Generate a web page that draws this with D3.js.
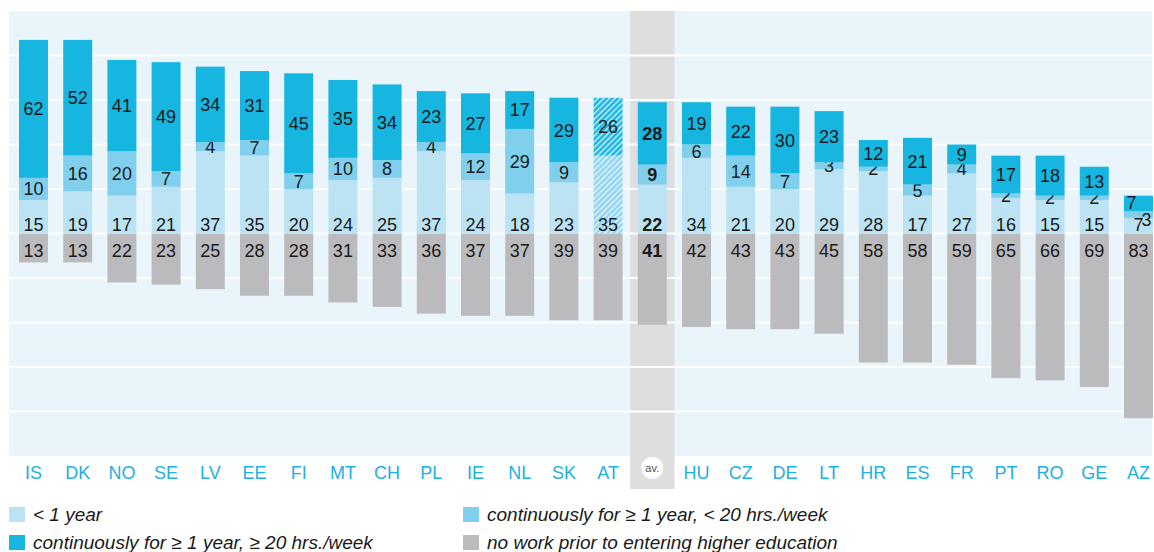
<!DOCTYPE html>
<html>
<head>
<meta charset="utf-8">
<script src="https://cdn.jsdelivr.net/npm/d3@7"></script>
<style>
  body { margin: 0; background: #fff; }
  text { font-family: "Liberation Sans", Arial, sans-serif; }
</style>
</head>
<body>
<script>
var w = 1154;
var h = 552;

// data (percent)
var countries = ["IS","DK","NO","SE","LV","EE","FI","MT","CH","PL","IE","NL","SK","AT","av.","HU","CZ","DE","LT","HR","ES","FR","PT","RO","GE","AZ"];
var lessOneYear = [15,19,17,21,37,35,20,24,25,37,24,18,23,35,22,34,21,20,29,28,17,27,16,15,15,7];
var contUnder20 = [10,16,20,7,4,7,7,10,8,4,12,29,9,0,9,6,14,7,3,2,5,4,2,2,2,3];
var contOver20 = [62,52,41,49,34,31,45,35,34,23,27,17,29,26,28,19,22,30,23,12,21,9,17,18,13,7];
var noWork = [13,13,22,23,25,28,28,31,33,36,37,37,39,39,41,42,43,43,45,58,58,59,65,66,69,83];
var gridTicks = [-80,-60,-40,-20,0,20,40,60,80];

var legendItems = [
  {label: "< 1 year", color: "#bbe3f3"},
  {label: "continuously for \u2265 1 year, < 20 hrs./week", color: "#80cfec"},
  {label: "continuously for \u2265 1 year, \u2265 20 hrs./week", color: "#17b6e1"},
  {label: "no work prior to entering higher education", color: "#bbbbbd"}
];

var colors = ["#bbe3f3", "#80cfec", "#17b6e1"];
var hatchBase = ["#8ed4ef", "#80cfec", "#17b6e1"];

var svg = d3.select("body").append("svg")
  .attr("width", w)
  .attr("height", h);

var defs = svg.append("defs");
hatchBase.forEach(function (c, i) {
  var p = defs.append("pattern")
    .attr("id", "hatch" + i)
    .attr("patternUnits", "userSpaceOnUse")
    .attr("width", 4)
    .attr("height", 4)
    .attr("patternTransform", "rotate(-45)");
  p.append("rect").attr("width", 4).attr("height", 4).attr("fill", c);
  p.append("rect").attr("width", 4).attr("height", 1.4).attr("fill", "#fff").attr("opacity", 0.8);
});

var x = d3.scaleBand()
  .domain(countries)
  .range([11.4, 1160.6])
  .paddingInner(0.344)
  .paddingOuter(0.172);

var y = d3.scaleLinear()
  .domain([-100, 100])
  .range([456, 11]);

var step = x.step();
var bw = x.bandwidth();

// plot background
svg.append("rect")
  .attr("x", 9).attr("y", y(100))
  .attr("width", 1143).attr("height", y(-100) - y(100))
  .attr("fill", "#eaf5fb");

// average column
var avX = x("av.") + bw / 2 - step / 2;
svg.append("rect")
  .attr("x", avX).attr("y", y(100))
  .attr("width", step).attr("height", 489 - y(100))
  .attr("fill", "#dedede");

// gridlines
svg.selectAll(".grid")
  .data(gridTicks)
  .join("line")
  .attr("class", "grid")
  .attr("x1", 9).attr("x2", 1152)
  .attr("y1", function (d) { return y(d); })
  .attr("y2", function (d) { return y(d); })
  .attr("stroke", "#fff")
  .attr("stroke-width", 2);

// build rows
var rows = countries.map(function (c, i) {
  return {
    c: c,
    vals: [lessOneYear[i], contUnder20[i], contOver20[i]],
    gray: noWork[i]
  };
});

var g = svg.selectAll(".bar")
  .data(rows)
  .join("g")
  .attr("class", "bar")
  .attr("transform", function (d) { return "translate(" + x(d.c) + ",0)"; });

// negative gray bars
g.append("rect")
  .attr("x", 0)
  .attr("y", y(0))
  .attr("width", bw)
  .attr("height", function (d) { return y(-d.gray) - y(0); })
  .attr("fill", "#bbbbbd");

// positive stacks
g.each(function (d) {
  var sel = d3.select(this);
  var cum = 0;
  var bold = d.c === "av." ? "bold" : "normal";
  d.vals.forEach(function (v, k) {
    var y0 = y(cum), y1 = y(cum + v);
    cum += v;
    if (v === 0) return;
    sel.append("rect")
      .attr("x", 0).attr("y", y1)
      .attr("width", bw).attr("height", y0 - y1)
      .attr("fill", d.c === "AT" ? "url(#hatch" + k + ")" : colors[k]);
    var lx = bw / 2, ly = (y0 + y1) / 2, dy = "0.36em";
    if (k === 0) { ly = y(0) - 2.5; dy = "0"; }
    if (d.c === "AZ" && k === 2) { lx -= 7; ly -= 1; }
    if (d.c === "AZ" && k === 1) { lx += 8; ly += 5; }
    sel.append("text")
      .attr("x", lx).attr("y", ly).attr("dy", dy)
      .attr("text-anchor", "middle")
      .attr("font-size", 18)
      .attr("font-weight", bold)
      .attr("fill", "#1a1a1a")
      .text(v);
  });
  sel.append("text")
    .attr("x", bw / 2).attr("y", y(0) + 23)
    .attr("text-anchor", "middle")
    .attr("font-size", 18)
    .attr("font-weight", bold)
    .attr("fill", "#1a1a1a")
    .text(d.gray);
});

// category labels
svg.selectAll(".cat")
  .data(countries.filter(function (c) { return c !== "av."; }))
  .join("text")
  .attr("class", "cat")
  .attr("x", function (d) { return x(d) + bw / 2; })
  .attr("y", 479)
  .attr("text-anchor", "middle")
  .attr("font-size", 18)
  .attr("fill", "#1eb0e0")
  .text(function (d) { return d; });

// av. badge
var avC = x("av.") + bw / 2;
svg.append("circle")
  .attr("cx", avC).attr("cy", 468)
  .attr("r", 11)
  .attr("fill", "#fff");
svg.append("text")
  .attr("x", avC).attr("y", 472)
  .attr("text-anchor", "middle")
  .attr("font-size", 11)
  .attr("fill", "#555")
  .text("av.");

// legend
var legPos = [[9, 507], [463, 507], [9, 535], [463, 535]];
var leg = svg.selectAll(".leg")
  .data(legendItems)
  .join("g")
  .attr("class", "leg")
  .attr("transform", function (d, i) { return "translate(" + legPos[i][0] + "," + legPos[i][1] + ")"; });
leg.append("rect")
  .attr("width", 16).attr("height", 15)
  .attr("fill", function (d) { return d.color; });
leg.append("text")
  .attr("x", 24).attr("y", 14)
  .attr("font-size", 19)
  .attr("font-style", "italic")
  .attr("fill", "#1a1a1a")
  .text(function (d) { return d.label; });
</script>
</body>
</html>
